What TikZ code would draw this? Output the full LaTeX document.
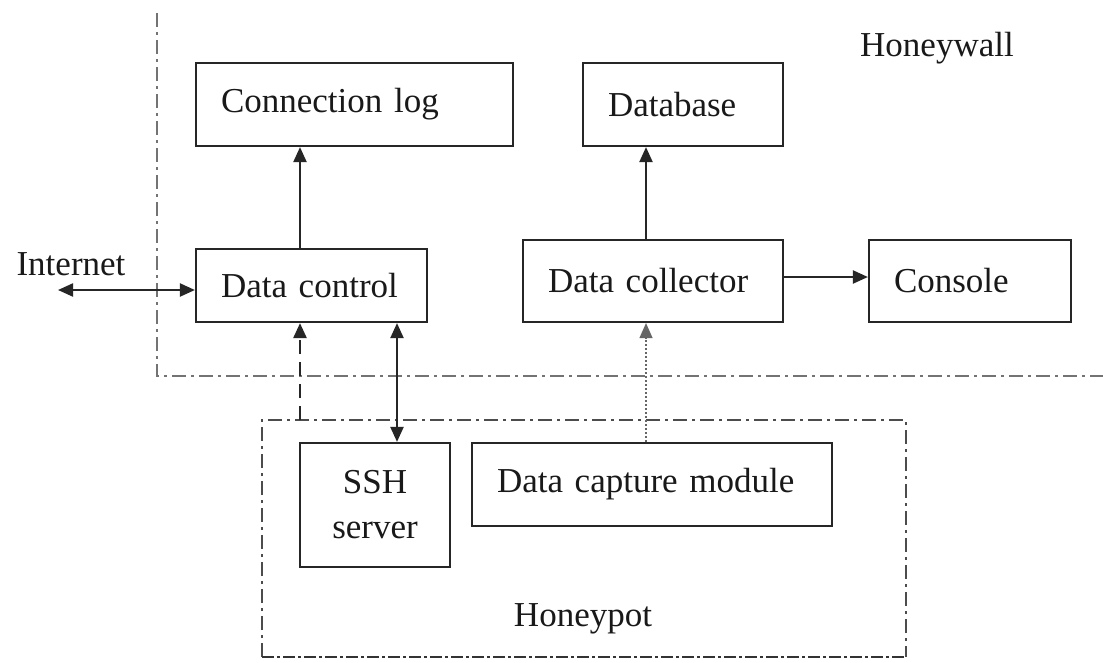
\documentclass[tikz,border=0pt]{standalone}
\usepackage{fontspec}
\setmainfont{Liberation Serif}
\usetikzlibrary{arrows.meta,calc}
\begin{document}
\begin{tikzpicture}[x=1pt,y=-1pt,
  box/.style={draw=black!85, line width=2.2pt, inner xsep=25pt, inner ysep=0pt,
    align=left, font=\fontsize{35}{45}\selectfont, text=black!90},
  lbl/.style={font=\fontsize{35}{45}\selectfont, text=black!90, inner sep=0pt, anchor=base},
  tip/.style={-{Triangle[length=15pt,width=13pt]}},
  dtip/.style={{Triangle[length=15pt,width=13pt]}-{Triangle[length=15pt,width=13pt]}},
  conn/.style={line width=2.2pt, draw=black!85},
  hwline/.style={draw=black!55, line width=1.8pt, dash pattern=on 14pt off 5pt on 3pt off 5pt},
  hpline/.style={draw=black!70, line width=2pt, dash pattern=on 14pt off 5pt on 3pt off 5pt},
  hpbottom/.style={draw=black!80, line width=2.8pt, dash pattern=on 12pt off 3pt on 3pt off 3pt},
  dashconn/.style={line width=2.5pt, draw=black!85, dash pattern=on 14pt off 8pt},
  dotconn/.style={line width=1.2pt, draw=black!60, dash pattern=on 2pt off 2pt},
]
\useasboundingbox (0,0) rectangle (1103,662);
\fill[white] (0,0) rectangle (1103,662);

% boundaries
\coordinate (hwTop) at (157,13);
\coordinate (hwCorner) at (157,376);
\coordinate (hwEnd) at (1103,376);
\draw[hwline] (hwTop) -- (hwCorner) -- (hwEnd);
\coordinate (hpNW) at (262,420);
\coordinate (hpSE) at (906,657);
\draw[hpline] (hpNW |- hpSE) -- (hpNW) -- (hpNW -| hpSE) -- (hpSE);
\draw[hpbottom] (hpNW |- hpSE) -- (hpSE);

% boxes
\node[box, minimum width=317pt, minimum height=83pt, text width=267pt] (clog) at (354.5,104.5) {Connection log};
\node[box, minimum width=200pt, minimum height=83pt, text width=150pt] (db) at (683,104.5) {Database};
\node[box, minimum width=231pt, minimum height=73pt, text width=181pt] (dc) at (311.5,285.5) {Data control};
\node[box, minimum width=260pt, minimum height=82pt, text width=210pt] (dcol) at (653,281) {Data collector};
\node[box, minimum width=202pt, minimum height=82pt, text width=152pt] (cons) at (970,281) {Console};
\node[box, minimum width=150pt, minimum height=124pt, text width=100pt, align=center] (ssh) at (375,505) {SSH\\server};
\node[box, minimum width=360pt, minimum height=83pt, text width=310pt] (dcap) at (652,484.5) {Data capture module};

% labels
\node[lbl] (inetT) at (71,275) {Internet};
\node[lbl] (hwT) at (937,56) {Honeywall};
\node[lbl] (hpT) at (583,626) {Honeypot};

% connectors
\coordinate (a1) at ([xshift=-11.5pt]dc.north);
\draw[conn, tip] (a1) -- (a1 |- clog.south);
\coordinate (a2) at ([xshift=-7pt]dcol.north);
\draw[conn, tip] (a2) -- (a2 |- db.south);
\coordinate (a3) at ([yshift=4pt]dcol.east);
\draw[conn, tip] (a3) -- (a3 -| cons.west);
\coordinate (inet) at (58,290);
\draw[conn, dtip] (inet) -- (inet -| dc.west);
\coordinate (a5) at ([xshift=-11.5pt]dc.south);
\draw[dashconn, tip] (a5 |- hpNW) -- (a5);
\coordinate (a6) at ([xshift=22pt]ssh.north);
\draw[conn, dtip] (a6 |- dc.south) -- (a6);
\coordinate (a7) at ([xshift=-6pt]dcap.north);
\draw[dotconn, tip] (a7) -- (a7 |- dcol.south);
\end{tikzpicture}
\end{document}
